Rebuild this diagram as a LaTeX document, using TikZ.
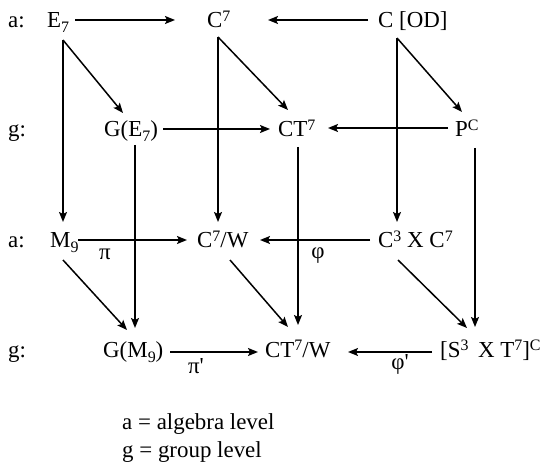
\documentclass[tikz,border=0pt]{standalone}
\usepackage{fontspec}
\setmainfont{Liberation Serif}
\usetikzlibrary{arrows.meta,calc}
\newcommand\mysub[1]{\raisebox{-5bp}{\fontsize{16}{16}\selectfont #1}}
\newcommand\mysup[1]{\raisebox{6.5bp}{\fontsize{16}{16}\selectfont #1}}
\begin{document}
\begin{tikzpicture}[x=1bp,y=-1bp,
  txt/.style={inner sep=0pt, anchor=base west, font=\fontsize{23}{27}\selectfont},
  lbl/.style={inner sep=0pt, anchor=center, font=\fontsize{23}{27}\selectfont},
  arr/.style={-{Stealth[length=10bp,width=8bp,inset=2bp]}, line width=1.5bp}]
\useasboundingbox (0,0) rectangle (549,468);
% level labels
\node[txt] (la1) at (8,28) {a:};
\node[txt] (lg1) at (8,137) {g:};
\node[txt] (la2) at (8,248) {a:};
\node[txt] (lg2) at (8,357) {g:};
% objects
\node[txt] (e7) at (47,28) {E\mysub{7}};
\node[txt] (c7) at (207,28) {C\mysup{7}};
\node[txt] (cod) at (378,28) {C [OD]};
\node[txt] (ge7) at (104,137) {G(E\mysub{7})};
\node[txt] (ct7) at (278,137) {CT\mysup{7}};
\node[txt] (pc) at (455,137) {P\mysup{C}};
\node[txt] (m9) at (50,248) {M\mysub{9}};
\node[txt] (c7w) at (197,248) {C\mysup{7}/W};
\node[txt] (c3) at (378,248) {C\mysup{3} X C\mysup{7}};
\node[txt] (gm9) at (103,357) {G(M\mysub{9})};
\node[txt] (ct7w) at (265,357) {CT\mysup{7}/W};
\node[txt] (s3) at (440,357) {[S\mysup{3}\, X T\mysup{7}]\mysup{C}};
% legend
\node[txt] (leg1) at (122,429) {a = algebra level};
\node[txt] (leg2) at (122,457) {g = group level};
% arrows
\draw[arr] ($(e7.base west)+(28,-8)$) -- ($(c7.base west)+(-32,-8)$);
\draw[arr] ($(cod.base west)+(-10,-8)$) -- ($(c7.base west)+(61,-8)$);
\draw[arr] ($(e7.base west)+(16,12)$) -- ($(ge7.base west)+(19,-24)$);
\draw[arr] ($(e7.base west)+(16,12)$) -- ($(m9.base west)+(13,-26)$);
\draw[arr] ($(c7.base west)+(11,9)$) -- ($(ct7.base west)+(10,-27)$);
\draw[arr] ($(c7.base west)+(11,9)$) -- ($(c7w.base west)+(21,-26)$);
\draw[arr] ($(cod.base west)+(19,10)$) -- ($(pc.base west)+(7,-25)$);
\draw[arr] ($(cod.base west)+(19,10)$) -- ($(c3.base west)+(19,-26)$);
\draw[arr] ($(ge7.base west)+(59,-8)$) -- ($(ct7.base west)+(-8,-8)$);
\draw[arr] ($(pc.base west)+(-7,-9)$) -- ($(ct7.base west)+(50,-9)$);
\draw[arr] ($(ge7.base west)+(31,8)$) -- ($(gm9.base west)+(32,-29)$);
\draw[arr] ($(ct7.base west)+(20,10)$) -- ($(ct7w.base west)+(33,-32)$);
\draw[arr] ($(pc.base west)+(20,11)$) -- ($(s3.base west)+(35,-30)$);
\draw[arr] ($(m9.base west)+(28,-8)$) -- ($(c7w.base west)+(-10,-8)$);
\draw[arr] ($(c3.base west)+(-8,-8)$) -- ($(c7w.base west)+(63,-8)$);
\draw[arr] ($(m9.base west)+(13,12)$) -- ($(gm9.base west)+(24,-27)$);
\draw[arr] ($(c7w.base west)+(33,12)$) -- ($(ct7w.base west)+(23,-30)$);
\draw[arr] ($(c3.base west)+(20,12)$) -- ($(s3.base west)+(27,-29)$);
\draw[arr] ($(gm9.base west)+(67,-5)$) -- ($(ct7w.base west)+(-7,-5)$);
\draw[arr] ($(s3.base west)+(-8,-5)$) -- ($(ct7w.base west)+(83,-5)$);
% arrow labels
\node[lbl] (pi) at (105,254) {π};
\node[lbl] (phi) at (318,256) {φ};
\node[lbl] (pip) at (196,366) {π\textquotesingle};
\node[lbl] (phip) at (400,364) {φ\textquotesingle};
\end{tikzpicture}
\end{document}
